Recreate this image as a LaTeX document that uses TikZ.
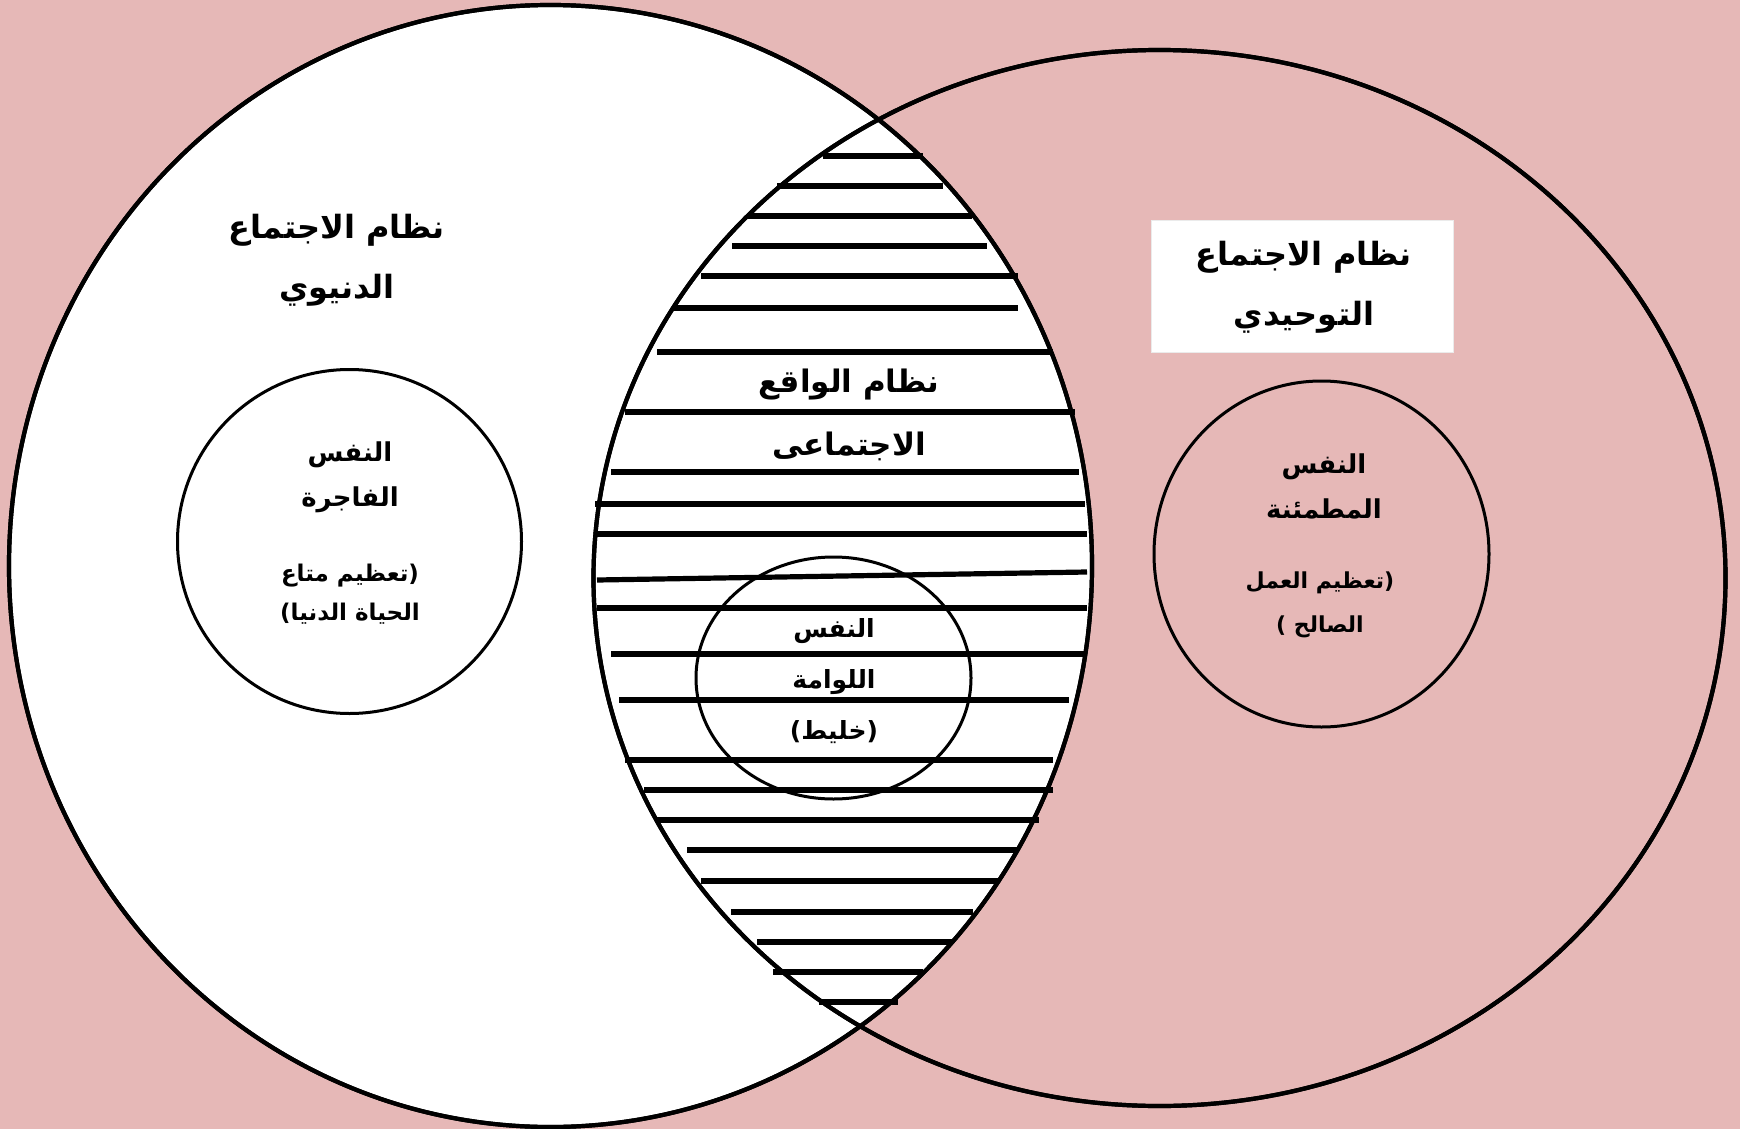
\documentclass[tikz,border=0pt]{standalone}
\usepackage{fontspec}
\usetikzlibrary{shapes.geometric}
\TeXXeTstate=1
\newfontfamily\arabicfont[Script=Arabic]{DejaVu Sans}
\definecolor{bgpink}{HTML}{E6B8B7}
\tikzset{
  outerring/.style={ellipse, draw=black, line width=2.1pt, inner sep=0pt, outer sep=0pt},
  innerring/.style={ellipse, draw=black, line width=1.5pt, inner sep=0pt, outer sep=0pt},
  hatchline/.style={line width=2.6pt, black},
  titletext/.style={align=center, inner sep=0pt, font=\arabicfont\bfseries\fontsize{16}{30}\selectfont},
  nametext/.style={align=center, inner sep=0pt, font=\arabicfont\bfseries\fontsize{13}{22.5}\selectfont},
  subtext/.style={align=center, inner sep=0pt, font=\arabicfont\bfseries\fontsize{11.5}{19.5}\selectfont},
}
\begin{document}
\begin{tikzpicture}[x=0.5pt,y=-0.5pt]
\fill[bgpink] (0,0) rectangle (1740,1129);
\useasboundingbox (0,0) rectangle (1740,1129);
% left (white) set
\node[outerring, fill=white, minimum width=541.5pt, minimum height=561pt] (leftset) at (550.5,566) {};
% right (transparent) set
\node[outerring, minimum width=566pt, minimum height=528pt] (rightset) at (1159.5,578) {};
% hatch lines of the intersection
\foreach \yy/\xa/\xb in {156/823/923, 186/777/943, 216/747/972, 246/732/987, 276/701/1018,
  308/672/1018, 352/657/1053, 412/625/1075, 472/611/1079, 504/595/1085, 534/597/1087,
  608/597/1087, 654/611/1085, 700/619/1069, 760/625/1053, 790/644/1053, 820/657/1039,
  850/687/1017, 881/701/999, 912/731/973, 942/757/953, 972/773/923, 1002/819/898}
  {\draw[hatchline] (\xa,\yy) -- (\xb,\yy);}
\draw[hatchline] (597,580) -- (1087,572);
% redraw outlines above hatch
\node[outerring, minimum width=541.5pt, minimum height=561pt] (leftoutline) at (550.5,566) {};
\node[outerring, minimum width=566pt, minimum height=528pt] (rightoutline) at (1159.5,578) {};
% inner circles
\node[innerring, minimum width=172pt, minimum height=172pt] (fajira) at (349.5,541.5) {};
\node[innerring, minimum width=167.5pt, minimum height=173pt] (mutmainna) at (1321.5,554) {};
\node[innerring, minimum width=137.5pt, minimum height=121pt] (lawwama) at (833.5,678) {};
% white label box
\node[fill=white, draw=black!8, line width=0.5pt, minimum width=151pt, minimum height=66pt, inner sep=0pt] (tawhidbox) at (1302,286) {};
% texts
\node[titletext] (lefttitle) at (337,260) {\beginR نظام الاجتماع\endR\\\beginR الدنيوي\endR};
\node[titletext] (righttitle) at (1304,287) {\beginR نظام الاجتماع\endR\\\beginR التوحيدي\endR};
\node[titletext, font=\arabicfont\bfseries\fontsize{15.5}{31.5}\selectfont] (midtitle) at (849,415) {\beginR نظام الواقع\endR\\\beginR الاجتماعى\endR};
\node[nametext] (fajiraname) at (350,477) {\beginR النفس\endR\\\beginR الفاجرة\endR};
\node[subtext] (fajirasub) at (350,594) {\beginR (تعظيم متاع\endR\\\beginR الحياة الدنيا)\endR};
\node[nametext] (mutmainnaname) at (1324,486) {\beginR النفس\endR\\\beginR المطمئنة\endR};
\node[subtext, font=\arabicfont\bfseries\fontsize{11}{22}\selectfont] (mutmainnasub) at (1320,605) {\beginR (تعظيم العمل\endR\\\beginR الصالح )\endR};
\node[nametext, font=\arabicfont\bfseries\fontsize{12.5}{25.5}\selectfont] (lawwamaname) at (834,681) {\beginR النفس\endR\\\beginR اللوامة\endR\\\beginR (خليط)\endR};
\end{tikzpicture}
\end{document}
